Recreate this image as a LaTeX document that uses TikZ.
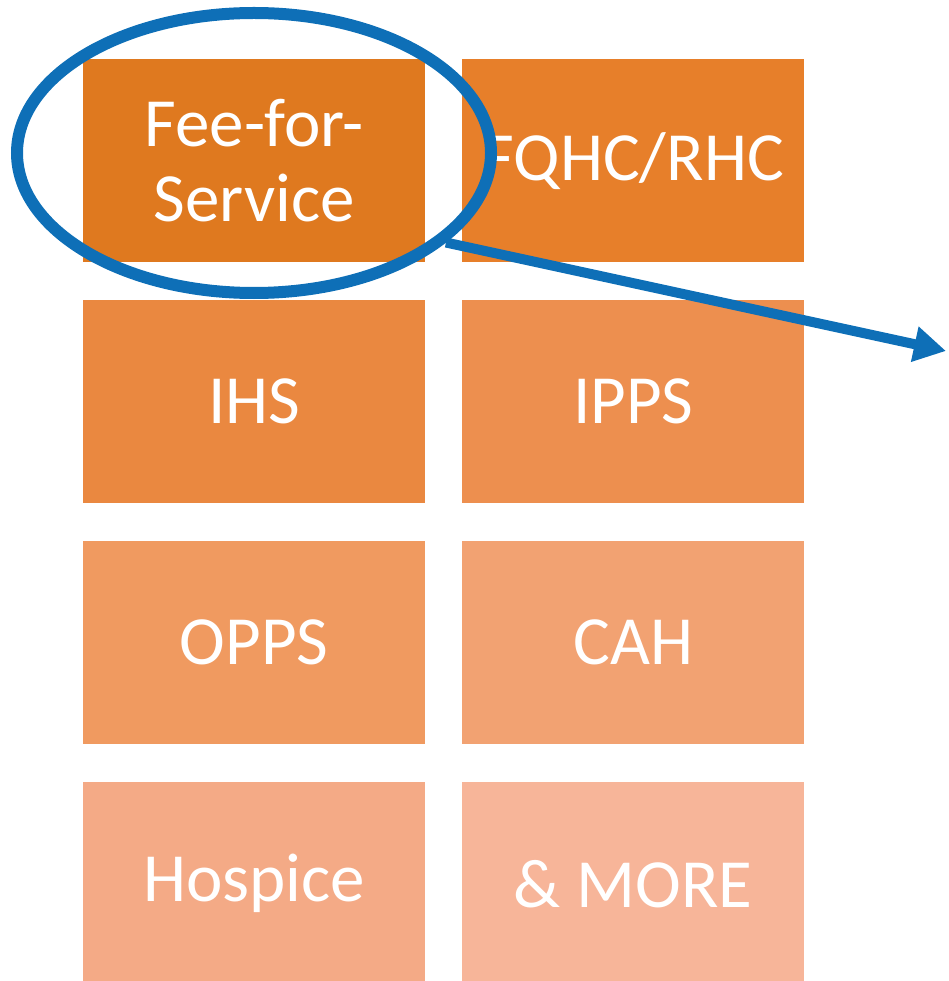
\documentclass[tikz,border=0pt]{standalone}
\usepackage{fontspec}
\usepackage{xcolor}
\setmainfont{Carlito}
\usetikzlibrary{shapes.geometric,arrows.meta}

\definecolor{tileA}{HTML}{DF791F}
\definecolor{tileB}{HTML}{E77F2A}
\definecolor{tileC}{HTML}{EA8840}
\definecolor{tileD}{HTML}{ED8F4F}
\definecolor{tileE}{HTML}{F09A60}
\definecolor{tileF}{HTML}{F2A272}
\definecolor{tileG}{HTML}{F4AA86}
\definecolor{tileH}{HTML}{F7B599}
\definecolor{ringblue}{HTML}{0E6FB7}

\tikzset{
  tile/.style={anchor=north west, minimum width=342pt, minimum height=203pt,
    inner sep=0pt, text=white, align=center,
    font=\fontsize{69}{75}\selectfont},
}

\begin{document}
\begin{tikzpicture}[x=1pt,y=-1pt]
\useasboundingbox (0,0) rectangle (948,981);
\node[tile, fill=tileA] (ffs)     at (83,59)   {Fee-for-\\Service};
\node[tile, fill=tileB] (fqhc)    at (462,59)  {FQHC/RHC};
\node[tile, fill=tileC] (ihs)     at (83,300)  {IHS};
\node[tile, fill=tileD] (ipps)    at (462,300) {IPPS};
\node[tile, fill=tileE] (opps)    at (83,541)  {OPPS};
\node[tile, fill=tileF] (cah)     at (462,541) {CAH};
\node[tile, fill=tileG] (hospice) at (83,782)  {Hospice};
\node[tile, fill=tileH] (more)    at (462,782) {\& MORE};

% highlight ring and pointer
\node[ellipse, draw=ringblue, line width=12pt, minimum width=474pt,
  minimum height=280pt, inner sep=0pt] (ring) at (254,153) {};
\coordinate (tip) at (946,351);
\draw[ringblue, line width=10pt, -{Triangle[length=32pt,width=34pt]}]
  (ring.-25) -- (tip);
\end{tikzpicture}
\end{document}
